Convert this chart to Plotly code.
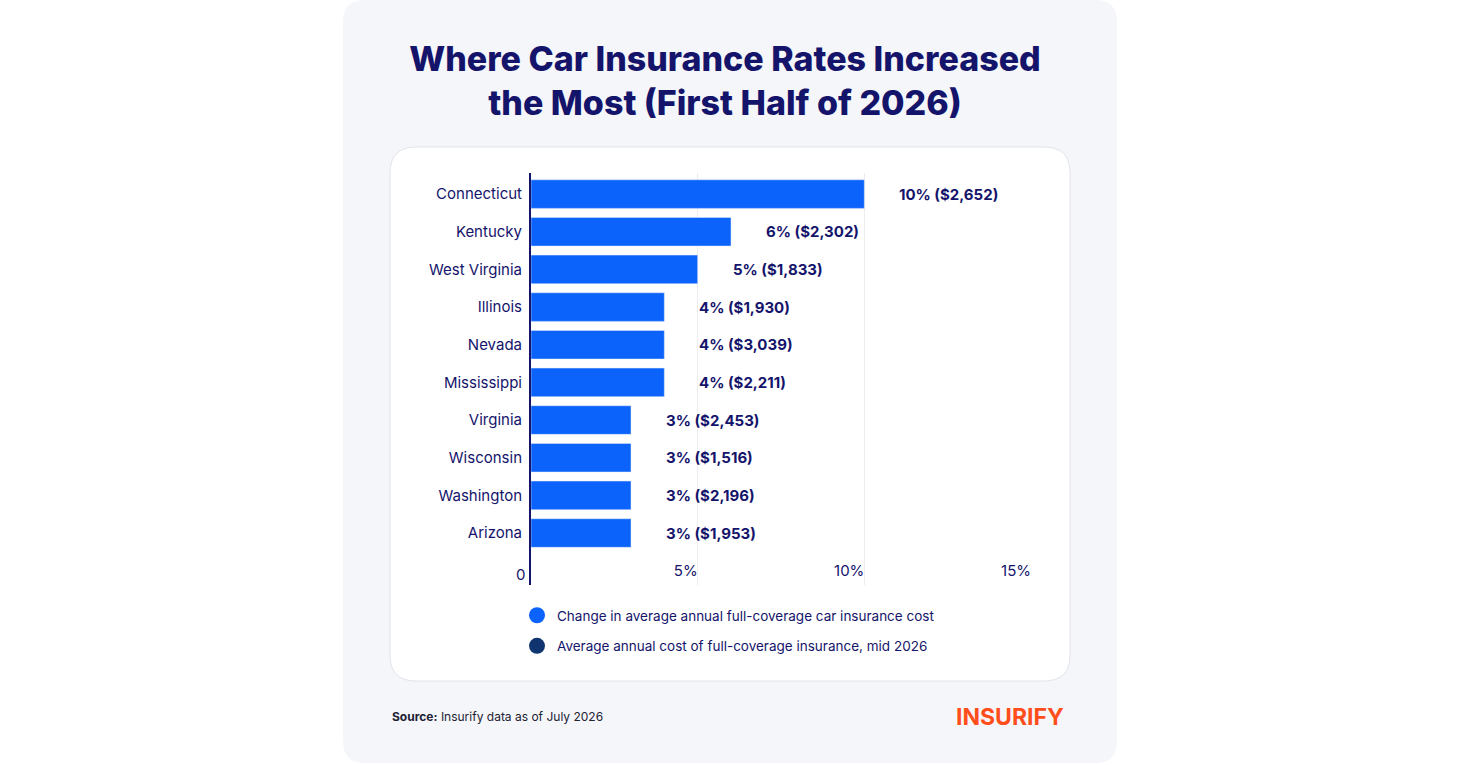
import plotly.graph_objects as go

W, H = 1460, 765

states = ["Connecticut", "Kentucky", "West Virginia", "Illinois", "Nevada",
          "Mississippi", "Virginia", "Wisconsin", "Washington", "Arizona"]
pct_change = [10, 6, 5, 4, 4, 4, 3, 3, 3, 3]
avg_cost = [2652, 2302, 1833, 1930, 3039, 2211, 2453, 1516, 2196, 1953]
x_ticks = [0, 5, 10, 15]
x_ticktext = ["0", "5%", "10%", "15%"]

NAVY = "#14146b"
BLUE = "#0b63fb"
DARK = "#0f3470"
FONT = "Inter"


def px_x(x):
    return x / W


def px_y(y):
    return 1 - y / H


def rounded(x0, y0, x1, y1, r):
    # rounded rectangle path in paper coords, input in pixels
    pts = []
    pts.append(f"M {px_x(x0 + r)},{px_y(y0)}")
    pts.append(f"L {px_x(x1 - r)},{px_y(y0)}")
    pts.append(f"Q {px_x(x1)},{px_y(y0)} {px_x(x1)},{px_y(y0 + r)}")
    pts.append(f"L {px_x(x1)},{px_y(y1 - r)}")
    pts.append(f"Q {px_x(x1)},{px_y(y1)} {px_x(x1 - r)},{px_y(y1)}")
    pts.append(f"L {px_x(x0 + r)},{px_y(y1)}")
    pts.append(f"Q {px_x(x0)},{px_y(y1)} {px_x(x0)},{px_y(y1 - r)}")
    pts.append(f"L {px_x(x0)},{px_y(y0 + r)}")
    pts.append(f"Q {px_x(x0)},{px_y(y0)} {px_x(x0 + r)},{px_y(y0)} Z")
    return " ".join(pts)


fig = go.Figure()
fig.add_trace(go.Bar(x=pct_change, y=states, orientation="h", marker_color=BLUE,
                     width=0.76, showlegend=False, hoverinfo="skip"))

# legend-only entries
fig.add_trace(go.Scatter(x=[None], y=[None], mode="markers", legendgroup="a",
                         name="Change in average annual full-coverage car insurance cost",
                         marker=dict(size=16, color=BLUE)))
fig.add_trace(go.Scatter(x=[None], y=[None], mode="markers", legendgroup="b",
                         name="Average annual cost of full-coverage insurance, mid 2026",
                         marker=dict(size=16, color=DARK)))

for s, p, c in zip(states, pct_change, avg_cost):
    fig.add_annotation(x=p, y=s, xref="x", yref="y", text=f"<b>{p}% (${c:,})</b>",
                       showarrow=False, xanchor="left", xshift=33,
                       font=dict(family=FONT, size=15, color=NAVY))

# "0" tick sits left of the axis line, outside the plot area, so draw it here
fig.add_annotation(x=x_ticks[0], y=0, xref="x", yref="y domain", yanchor="middle",
                   text=x_ticktext[0], showarrow=False, xanchor="right", xshift=-4,
                   yshift=11, font=dict(family=FONT, size=15, color=NAVY))

shapes = [
    dict(type="path", path=rounded(343, 0, 1117, 763, 22), xref="paper", yref="paper",
         fillcolor="#f5f6fa", line=dict(width=0), layer="below"),
    dict(type="path", path=rounded(390, 147, 1070, 681, 26), xref="paper", yref="paper",
         fillcolor="white", line=dict(width=1, color="#e2e4ec"), layer="below"),
]

fig.add_annotation(x=px_x(390), y=px_y(716), xref="paper", yref="paper", xanchor="left",
                   yanchor="middle", text="<b>Source:</b> Insurify data as of July 2026",
                   showarrow=False, font=dict(family=FONT, size=12, color="#222233"))
fig.add_annotation(x=px_x(1066), y=px_y(717), xref="paper", yref="paper", xanchor="right",
                   yanchor="middle", text="<b>INSURIFY</b>", showarrow=False,
                   font=dict(family=FONT, size=23, color="#ff4e1b"))

fig.update_layout(
    width=W, height=H,
    margin=dict(l=0, r=0, t=0, b=0),
    paper_bgcolor="white", plot_bgcolor="rgba(0,0,0,0)",
    shapes=shapes,
    title=dict(text="Where Car Insurance Rates Increased<br>the Most (First Half of 2026)",
               x=px_x(725), xanchor="center", y=px_y(71), yanchor="middle",
               font=dict(family=FONT, size=34, color=NAVY, weight=800)),
    xaxis=dict(domain=[px_x(531), px_x(1031)], range=[0, 15], tickvals=x_ticks,
               ticktext=x_ticktext, showgrid=True, gridcolor="#ededf0", gridwidth=1,
               zeroline=False, showline=False, ticklabelposition="inside left",
               tickfont=dict(family=FONT, size=15, color=NAVY), fixedrange=True),
    yaxis=dict(domain=[px_y(585), px_y(173)], range=[10.38, -0.56], showline=True,
               linecolor=NAVY, linewidth=2, ticklabelstandoff=4, showgrid=False,
               tickfont=dict(family=FONT, size=15, color=NAVY), fixedrange=True),
    legend=dict(x=px_x(517), y=px_y(600), xanchor="left", yanchor="top",
                font=dict(family=FONT, size=13.5, color=NAVY), tracegroupgap=10,
                bgcolor="rgba(0,0,0,0)"),
    bargap=0.25,
)

fig.write_html("out.html", config={"displayModeBar": False},
               post_script="document.body.style.margin='0';")
